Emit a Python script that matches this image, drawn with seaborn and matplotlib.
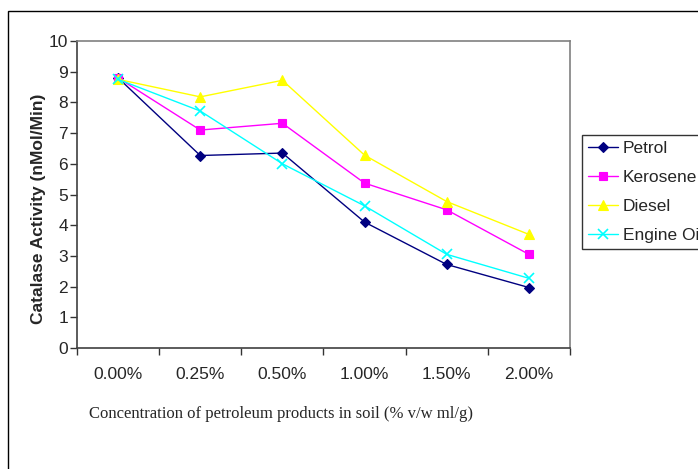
import matplotlib
matplotlib.use("Agg")
import matplotlib.pyplot as plt
import seaborn as sns
import pandas as pd
from matplotlib.patches import Rectangle

categories = ["0.00%", "0.25%", "0.50%", "1.00%", "1.50%", "2.00%"]
petrol = [8.8, 6.27, 6.35, 4.1, 2.72, 1.97]
kerosene = [8.8, 7.1, 7.32, 5.37, 4.5, 3.05]
diesel = [8.75, 8.18, 8.72, 6.28, 4.77, 3.7]
engine_oil = [8.75, 7.72, 6.0, 4.63, 3.05, 2.27]
series_names = ["Petrol", "Kerosene", "Diesel", "Engine Oil"]
y_ticks = list(range(0, 11))

sns.set_style("white")
plt.rcParams['font.family'] = ['Liberation Sans', 'DejaVu Sans']

fig = plt.figure(figsize=(6.98, 4.69), dpi=100)
ax = fig.add_axes([77/698, 1-348/469, 493/698, 307/469])

styles = {
    "Petrol": dict(color="#000080", marker="D", markersize=5),
    "Kerosene": dict(color="#FF00FF", marker="s", markersize=6),
    "Diesel": dict(color="#FFFF00", marker="^", markersize=7),
    "Engine Oil": dict(color="#00FFFF", marker="x", markersize=7, markeredgewidth=1.2),
}
values = [petrol, kerosene, diesel, engine_oil]
idx = list(range(len(categories)))
for name, vals in zip(series_names, values):
    df = pd.DataFrame({"x": idx, "y": vals})
    st = styles[name]
    sns.lineplot(data=df, x="x", y="y", ax=ax, label=name, color=st["color"],
                 marker=st["marker"], markersize=st["markersize"],
                 markeredgecolor=st["color"], markerfacecolor=st["color"],
                 markeredgewidth=st.get("markeredgewidth", 0.8), linewidth=1.0)

ax.set_xlim(-0.5, len(categories) - 0.5)
ax.set_ylim(0, 10)
ax.set_yticks(y_ticks)
ax.set_xticks(idx)
ax.set_xticklabels(categories, fontsize=12.5)
ax.set_xticks([i - 0.5 for i in range(len(categories) + 1)], minor=True)
ax.tick_params(axis='x', which='major', length=0, pad=14)
ax.tick_params(axis='x', which='minor', length=5, width=1, color='#333333', direction='out')
ax.tick_params(axis='y', which='major', length=5, width=1, color='#333333', direction='out',
               labelsize=12.5, pad=1.5)
ax.tick_params(axis='both', bottom=True, left=True)
ax.tick_params(axis='x', which='minor', bottom=True)

for s in ["top", "right"]:
    ax.spines[s].set_color("#808080")
    ax.spines[s].set_linewidth(1.2)
for s in ["left", "bottom"]:
    ax.spines[s].set_color("#404040")
    ax.spines[s].set_linewidth(1.2)
    ax.spines[s].set_visible(True)

ax.set_ylabel("Catalase Activity (nMol/Min)", fontsize=12.5, fontweight='bold')
ax.yaxis.set_label_coords(-0.063, 0.453)
ax.set_xlabel("Concentration of petroleum products in soil (% v/w ml/g)",
              fontsize=12, family=['Liberation Serif', 'DejaVu Serif'])
ax.xaxis.set_label_coords(0.414, -0.19)

ax.get_legend().remove()
handles, labels = ax.get_legend_handles_labels()
leg = fig.legend(handles, labels, loc='upper left', bbox_to_anchor=(582/698, 1-135/469),
                 fontsize=12.5, frameon=True, fancybox=False, shadow=False,
                 handlelength=1.75, handletextpad=0.25, labelspacing=0.8,
                 borderpad=0.35, borderaxespad=0)
leg.get_frame().set_edgecolor('black')
leg.get_frame().set_linewidth(1.0)

fig.patches.append(Rectangle((8/698, -0.1), 1.0, 1 - 11/469 + 0.1, transform=fig.transFigure,
                             fill=False, edgecolor='black', linewidth=1.0, clip_on=False))

fig.savefig("out.png", dpi=100)
